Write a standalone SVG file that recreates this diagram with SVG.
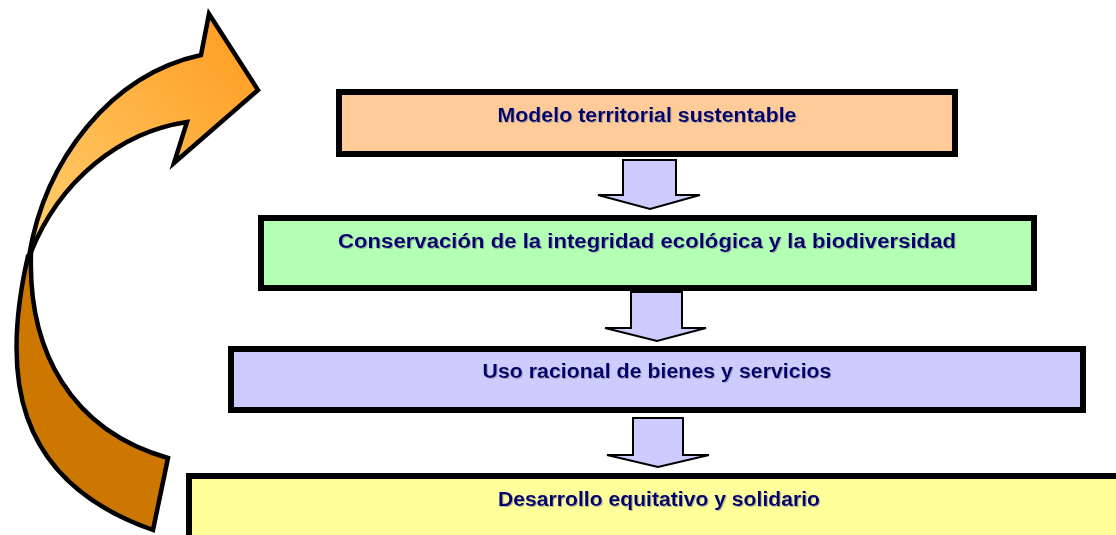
<svg xmlns="http://www.w3.org/2000/svg" width="1116" height="535" viewBox="0 0 1116 535">
  <defs>
    <linearGradient id="upperGrad" x1="0" y1="1" x2="1" y2="0">
      <stop offset="0" stop-color="#FFD070"/>
      <stop offset="1" stop-color="#FF9A1E"/>
    </linearGradient>
    <filter id="txtShadow" x="-5%" y="-30%" width="110%" height="160%">
      <feDropShadow dx="1" dy="1" stdDeviation="0.4" flood-color="#888888" flood-opacity="0.6"/>
    </filter>
    <style>
      .box { stroke: #000000; stroke-width: 6; }
      .lbl { font-family: "Liberation Sans", Arial, sans-serif; font-weight: bold; font-size: 20px; fill: #000070; text-anchor: middle; filter: url(#txtShadow); }
      .blk { fill: #CCCCFF; stroke: #000000; stroke-width: 2; stroke-linejoin: miter; }
      .curve { stroke: #000000; stroke-width: 4.5; stroke-linejoin: miter; }
    </style>
  </defs>
  <rect width="1116" height="535" fill="#FFFFFF"/>

  <g id="feedback-arrow">
    <path class="curve" fill="#CC7700" d="M 28,256 C 2,370 10,480 153,530 L 168,458 C 70,430 28,350 31,254 Z"/>
    <path class="curve" fill="url(#upperGrad)" d="M 29,256 C 45,160 110,75 201,55 L 209,14 L 258,90 L 174,163 L 187,122 C 120,132 60,180 31,252 Z"/>
  </g>

  <g id="node-modelo">
    <rect class="box" x="339" y="92" width="616" height="62" fill="#FFCC99"/>
    <text class="lbl" x="647" y="122" textLength="299" lengthAdjust="spacingAndGlyphs">Modelo territorial sustentable</text>
  </g>

  <g id="node-conservacion">
    <rect class="box" x="261" y="218" width="773" height="70" fill="#B3FFB3"/>
    <text class="lbl" x="647" y="248" textLength="618" lengthAdjust="spacingAndGlyphs">Conservación de la integridad ecológica y la biodiversidad</text>
  </g>

  <g id="node-uso">
    <rect class="box" x="231" y="349" width="852" height="61" fill="#CCCCFF"/>
    <text class="lbl" x="657" y="378" textLength="349" lengthAdjust="spacingAndGlyphs">Uso racional de bienes y servicios</text>
  </g>

  <g id="node-desarrollo">
    <rect class="box" x="189" y="476" width="940" height="70" fill="#FFFF99"/>
    <text class="lbl" x="659" y="506" textLength="322" lengthAdjust="spacingAndGlyphs">Desarrollo equitativo y solidario</text>
  </g>

  <g id="connectors">
    <path class="blk" d="M 623,160 H 676 V 195 H 700 L 650,209 L 598,195 H 623 Z"/>
    <path class="blk" d="M 631,292 H 682 V 328 H 706 L 657,341 L 605,328 H 631 Z"/>
    <path class="blk" d="M 633,418 H 683 V 455 H 709 L 658,467 L 607,455 H 633 Z"/>
  </g>
</svg>
